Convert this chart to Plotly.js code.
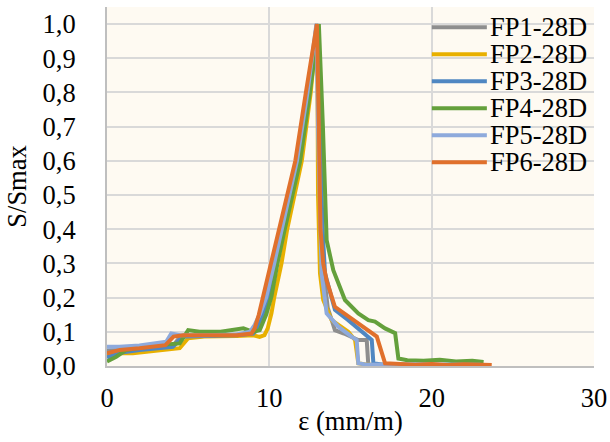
<!DOCTYPE html>
<html>
<head>
<meta charset="utf-8">
<script src="https://cdn.plot.ly/plotly-3.0.1.min.js"></script>
<style>html,body{margin:0;padding:0;background:#fff;}#chart{width:610px;height:442px;}</style>
</head>
<body>
<div id="chart"></div>
<script>
const seriesNames = ['FP1-28D','FP2-28D','FP3-28D','FP4-28D','FP5-28D','FP6-28D'];
const seriesColors = ['#8e8e8e','#e8b000','#4f87c2','#64a03c','#8eaadc','#e0702c'];

const fp1X = [0,1,2,3,4,4.5,5,7,9,9.3,9.6,9.9,10.4,10.85,11.75,12.4,12.92,13.05,13.2,13.4,13.6,14.04,14.6,15.48,16.0,16.1,16.5,17];
const fp1Y = [0.045,0.048,0.05,0.052,0.055,0.085,0.088,0.09,0.093,0.11,0.15,0.2,0.3,0.4,0.6,0.8,1.0,0.7,0.45,0.25,0.17,0.105,0.095,0.076,0.076,0.0,0.003,0.002];

const fp2X = [0,0.36,1.6,2.6,4.48,5.0,6,8,9.0,9.4,9.7,9.9,10.13,10.3,10.75,11.1,12.0,12.55,12.95,13.0,13.12,13.32,13.84,14.86,15.28,15.48,16,17];
const fp2Y = [0.03,0.037,0.037,0.042,0.052,0.081,0.086,0.088,0.09,0.085,0.09,0.11,0.154,0.2,0.3,0.4,0.6,0.8,1.0,0.5,0.271,0.193,0.134,0.1,0.076,0.008,0.004,0.004];

const fp3X = [0,1,2,3,4.06,4.68,6,8,9.0,9.2,9.55,9.9,10.35,10.8,11.75,12.4,12.95,13.1,13.28,13.43,14.04,14.86,15.9,16.31,16.41,17,18,20];
const fp3Y = [0.025,0.04,0.047,0.05,0.056,0.086,0.088,0.09,0.095,0.11,0.15,0.2,0.3,0.4,0.6,0.8,1.0,0.7,0.4,0.271,0.164,0.134,0.095,0.076,0.008,0.004,0.003,0.003];

const fp4X = [0,0.57,1.19,3.04,4.48,5.0,5.7,7,8.4,9.0,9.41,9.8,10.13,10.5,10.95,11.9,12.5,13.05,13.3,13.45,13.53,13.94,14.66,15.48,16.1,16.51,17.13,17.75,17.95,18.5,19.5,20.5,21.5,22.5,23.2];
const fp4Y = [0.013,0.027,0.047,0.061,0.066,0.105,0.1,0.1,0.11,0.1,0.105,0.15,0.203,0.3,0.4,0.6,0.8,1.0,0.7,0.45,0.368,0.28,0.193,0.154,0.134,0.13,0.11,0.096,0.022,0.017,0.015,0.018,0.013,0.015,0.012];

const fp5X = [0,0.77,2,3.65,3.96,4.5,6,8,8.8,9.1,9.45,9.8,10.3,10.75,11.7,12.35,12.9,13.0,13.1,13.22,13.53,14.25,15.07,15.38,15.48,16,18,20,22,23];
const fp5Y = [0.056,0.056,0.06,0.071,0.095,0.09,0.09,0.092,0.1,0.12,0.155,0.2,0.3,0.4,0.6,0.8,1.0,0.7,0.45,0.271,0.154,0.115,0.086,0.076,0.008,0.004,0.005,0.004,0.004,0.004];

const fp6X = [0,0.8,2,3.6,4.1,4.7,6,8,8.9,9.1,9.35,9.6,10.1,10.6,11.6,12.25,12.93,13.05,13.15,13.32,13.53,14.04,14.46,15.28,16.1,16.62,17.13,18,19,20,21,22,23,23.7];
const fp6Y = [0.037,0.047,0.052,0.061,0.086,0.09,0.09,0.09,0.095,0.11,0.15,0.2,0.3,0.4,0.6,0.8,1.0,0.7,0.4,0.3,0.25,0.173,0.159,0.13,0.105,0.086,0.008,0.006,0.004,0.006,0.003,0.005,0.003,0.003];

const xTicks = [0,10,20,30];
const yTicks = [0,0.1,0.2,0.3,0.4,0.5,0.6,0.7,0.8,0.9,1.0];
const xTitle = 'ε (mm/m)';
const yTitle = 'S/Smax';

const allX = [fp1X,fp2X,fp3X,fp4X,fp5X,fp6X];
const allY = [fp1Y,fp2Y,fp3Y,fp4Y,fp5Y,fp6Y];

const traces = allX.map((xs,i)=>({
  type:'scatter', mode:'lines', name:seriesNames[i],
  x:xs, y:allY[i],
  line:{color:seriesColors[i], width:4, shape:'linear'},
  showlegend:false, hoverinfo:'skip'
}));

const FONT = 'Liberation Serif, Times New Roman, serif';
const annotations = [];
const shapes = [];
const rowTop = 0.9437, rowStep = 0.0752;
seriesNames.forEach((n,i)=>{
  const yy = rowTop - i*rowStep;
  annotations.push({xref:'paper', yref:'paper', x:0.784, y:yy, xanchor:'left', yanchor:'middle',
    height:26, valign:'middle', borderpad:0,
    text:n, showarrow:false, font:{family:FONT, size:26.5, color:'#000'}});
  shapes.push({type:'line', xref:'paper', yref:'paper', x0:0.667, x1:0.78, y0:yy, y1:yy,
    line:{color:seriesColors[i], width:4}});
});

const layout = {
  width:610, height:442,
  margin:{l:107, r:16, t:7, b:76, pad:0},
  paper_bgcolor:'#ffffff', plot_bgcolor:'#fefaf2',
  separators:', ',
  font:{family:FONT, size:26.5, color:'#000'},
  showlegend:false,
  xaxis:{range:[0,30], tickvals:xTicks, ticktext:xTicks.map(String), showgrid:true, gridcolor:'#d9d9d9', gridwidth:2,
    zeroline:false, showline:true, linecolor:'#bfbfbf', linewidth:2, ticks:'', ticklabelstandoff:7,
    title:{text:xTitle, standoff:0, font:{family:FONT, size:26.5, color:'#000'}}, fixedrange:true},
  yaxis:{range:[0,1.05], tickvals:yTicks, tickformat:'.1f', showgrid:true, gridcolor:'#d9d9d9', gridwidth:2,
    zeroline:false, showline:true, linecolor:'#bfbfbf', linewidth:2, ticks:'', ticklabelstandoff:24,
    title:{text:yTitle, standoff:8, font:{family:FONT, size:26.5, color:'#000'}}, fixedrange:true},
  annotations:annotations, shapes:shapes
};

Plotly.newPlot('chart', traces, layout, {staticPlot:true, displayModeBar:false});
</script>
</body>
</html>
